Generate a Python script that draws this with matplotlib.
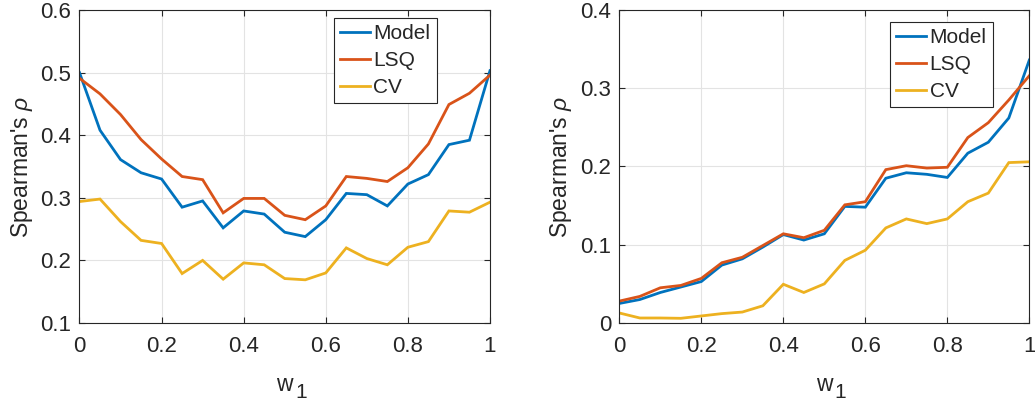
import numpy as np
import matplotlib
matplotlib.use("Agg")
import matplotlib.pyplot as plt

plt.rcParams['font.family'] = ['Liberation Sans', 'DejaVu Sans']
plt.rcParams['mathtext.fontset'] = 'custom'
plt.rcParams['mathtext.it'] = 'Liberation Sans:italic'
plt.rcParams['mathtext.rm'] = 'Liberation Sans'

w1 = [0.0, 0.05, 0.1, 0.15, 0.2, 0.25, 0.3, 0.35, 0.4, 0.45, 0.5,
      0.55, 0.6, 0.65, 0.7, 0.75, 0.8, 0.85, 0.9, 0.95, 1.0]

# left panel
left_model = [0.500, 0.408, 0.361, 0.340, 0.330, 0.285, 0.295, 0.252, 0.279, 0.274, 0.245,
              0.238, 0.265, 0.307, 0.305, 0.287, 0.322, 0.337, 0.385, 0.392, 0.503]
left_lsq = [0.491, 0.466, 0.433, 0.393, 0.362, 0.334, 0.329, 0.276, 0.299, 0.299, 0.272,
            0.265, 0.287, 0.334, 0.331, 0.326, 0.348, 0.386, 0.449, 0.467, 0.496]
left_cv = [0.294, 0.298, 0.262, 0.232, 0.227, 0.179, 0.200, 0.170, 0.196, 0.193, 0.171,
           0.169, 0.180, 0.220, 0.203, 0.193, 0.221, 0.230, 0.279, 0.277, 0.293]

# right panel
right_model = [0.025, 0.030, 0.039, 0.046, 0.053, 0.074, 0.082, 0.097, 0.113, 0.106, 0.114,
               0.149, 0.148, 0.185, 0.192, 0.190, 0.186, 0.217, 0.231, 0.262, 0.336]
right_lsq = [0.028, 0.034, 0.045, 0.048, 0.057, 0.077, 0.084, 0.099, 0.114, 0.109, 0.1185,
             0.151, 0.155, 0.196, 0.201, 0.198, 0.199, 0.237, 0.256, 0.285, 0.316]
right_cv = [0.0128, 0.0064, 0.0064, 0.006, 0.009, 0.012, 0.014, 0.022, 0.0495, 0.039, 0.050,
            0.080, 0.093, 0.1215, 0.133, 0.127, 0.133, 0.155, 0.166, 0.205, 0.206]

series_names = ['Model', 'LSQ', 'CV']
colors = ['#0072BD', '#D95319', '#EDB120']

xticks = [0, 0.2, 0.4, 0.6, 0.8, 1]
xticklabels = ['0', '0.2', '0.4', '0.6', '0.8', '1']
left_yticks = [0.1, 0.2, 0.3, 0.4, 0.5, 0.6]
left_yticklabels = ['0.1', '0.2', '0.3', '0.4', '0.5', '0.6']
right_yticks = [0, 0.1, 0.2, 0.3, 0.4]
right_yticklabels = ['0', '0.1', '0.2', '0.3', '0.4']

TXT = '#262626'

fig = plt.figure(figsize=(10.35, 4.03), dpi=100)
ax1 = fig.add_axes([0.0768, 0.1985, 0.3966, 0.7767])
ax2 = fig.add_axes([0.5984, 0.1985, 0.3961, 0.7767])

panels = [
    (ax1, [left_model, left_lsq, left_cv], (0.1, 0.6), left_yticks, left_yticklabels, (0.870, 0.974)),
    (ax2, [right_model, right_lsq, right_cv], (0.0, 0.4), right_yticks, right_yticklabels, (0.911, 0.962)),
]

for ax, data, ylim, yt, ytl, anchor in panels:
    for vals, name, c in zip(data, series_names, colors):
        ax.plot(w1, vals, color=c, lw=2.0, label=name, solid_joinstyle='miter')
    ax.set_xlim(0, 1)
    ax.set_ylim(*ylim)
    ax.set_xticks(xticks)
    ax.set_xticklabels(xticklabels)
    ax.set_yticks(yt)
    ax.set_yticklabels(ytl)
    ax.grid(True, color='#e3e3e3', lw=0.8)
    ax.set_axisbelow(True)
    for s in ax.spines.values():
        s.set_color(TXT)
        s.set_linewidth(0.8)
    ax.tick_params(direction='in', length=4, width=0.8, colors=TXT,
                   labelsize=16, top=True, right=True)
    ax.tick_params(axis='x', pad=9)
    ax.tick_params(axis='y', pad=6)
    # x label: "w" with a lowered, near full-size subscript "1"
    ax.set_xlabel('w', fontsize=16.5, color=TXT, labelpad=12)
    ax.annotate('1', xy=(1.0, 0.0), xycoords=ax.xaxis.label,
                xytext=(1.5, -4), textcoords='offset points',
                ha='left', va='bottom', fontsize=15, color=TXT)
    ax.set_ylabel(r"Spearman's $\rho$", fontsize=16.5, color=TXT, labelpad=4)
    leg = ax.legend(loc='upper right', bbox_to_anchor=anchor, fontsize=15,
                    frameon=True, fancybox=False, framealpha=1,
                    handlelength=1.45, handletextpad=0.15, borderpad=0.3,
                    labelspacing=0.38, borderaxespad=0)
    leg.get_frame().set_edgecolor(TXT)
    leg.get_frame().set_linewidth(0.8)
    for t in leg.get_texts():
        t.set_color(TXT)

fig.savefig('out.png', dpi=100)
